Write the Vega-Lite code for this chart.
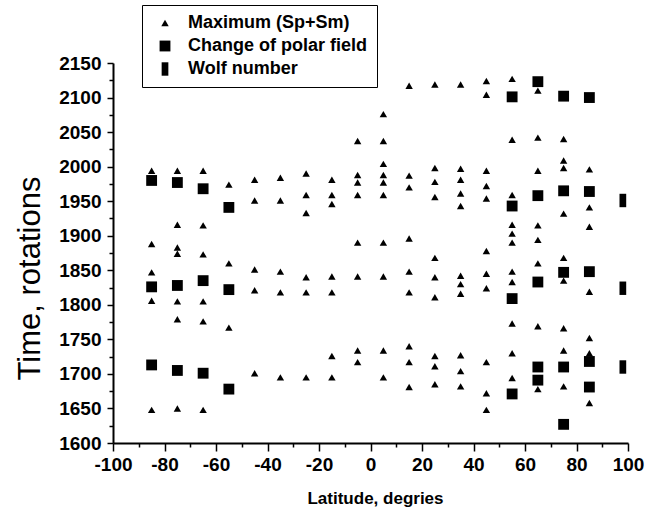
{
  "$schema": "https://vega.github.io/schema/vega-lite/v6.json",
  "width": 515,
  "height": 380,
  "autosize": {"type": "none"},
  "padding": {"left": 113, "top": 63, "right": 17, "bottom": 69},
  "config": {"view": {"stroke": null}, "font": "Liberation Sans"},
  "datasets": {
    "pts": [
      {"latitude": -85, "time": 1994, "series": "Maximum (Sp+Sm)"},
      {"latitude": -85, "time": 1888, "series": "Maximum (Sp+Sm)"},
      {"latitude": -85, "time": 1847, "series": "Maximum (Sp+Sm)"},
      {"latitude": -85, "time": 1806, "series": "Maximum (Sp+Sm)"},
      {"latitude": -85, "time": 1648, "series": "Maximum (Sp+Sm)"},
      {"latitude": -75, "time": 1994, "series": "Maximum (Sp+Sm)"},
      {"latitude": -75, "time": 1916, "series": "Maximum (Sp+Sm)"},
      {"latitude": -75, "time": 1883, "series": "Maximum (Sp+Sm)"},
      {"latitude": -75, "time": 1874, "series": "Maximum (Sp+Sm)"},
      {"latitude": -75, "time": 1805, "series": "Maximum (Sp+Sm)"},
      {"latitude": -75, "time": 1779, "series": "Maximum (Sp+Sm)"},
      {"latitude": -75, "time": 1650, "series": "Maximum (Sp+Sm)"},
      {"latitude": -65, "time": 1994, "series": "Maximum (Sp+Sm)"},
      {"latitude": -65, "time": 1915, "series": "Maximum (Sp+Sm)"},
      {"latitude": -65, "time": 1873, "series": "Maximum (Sp+Sm)"},
      {"latitude": -65, "time": 1805, "series": "Maximum (Sp+Sm)"},
      {"latitude": -65, "time": 1776, "series": "Maximum (Sp+Sm)"},
      {"latitude": -65, "time": 1648, "series": "Maximum (Sp+Sm)"},
      {"latitude": -55, "time": 1974, "series": "Maximum (Sp+Sm)"},
      {"latitude": -55, "time": 1860, "series": "Maximum (Sp+Sm)"},
      {"latitude": -55, "time": 1767, "series": "Maximum (Sp+Sm)"},
      {"latitude": -45, "time": 1981, "series": "Maximum (Sp+Sm)"},
      {"latitude": -45, "time": 1951, "series": "Maximum (Sp+Sm)"},
      {"latitude": -45, "time": 1851, "series": "Maximum (Sp+Sm)"},
      {"latitude": -45, "time": 1821, "series": "Maximum (Sp+Sm)"},
      {"latitude": -45, "time": 1701, "series": "Maximum (Sp+Sm)"},
      {"latitude": -35, "time": 1984, "series": "Maximum (Sp+Sm)"},
      {"latitude": -35, "time": 1951, "series": "Maximum (Sp+Sm)"},
      {"latitude": -35, "time": 1848, "series": "Maximum (Sp+Sm)"},
      {"latitude": -35, "time": 1818, "series": "Maximum (Sp+Sm)"},
      {"latitude": -35, "time": 1695, "series": "Maximum (Sp+Sm)"},
      {"latitude": -25, "time": 1990, "series": "Maximum (Sp+Sm)"},
      {"latitude": -25, "time": 1959, "series": "Maximum (Sp+Sm)"},
      {"latitude": -25, "time": 1933, "series": "Maximum (Sp+Sm)"},
      {"latitude": -25, "time": 1840, "series": "Maximum (Sp+Sm)"},
      {"latitude": -25, "time": 1818, "series": "Maximum (Sp+Sm)"},
      {"latitude": -25, "time": 1695, "series": "Maximum (Sp+Sm)"},
      {"latitude": -15, "time": 1981, "series": "Maximum (Sp+Sm)"},
      {"latitude": -15, "time": 1959, "series": "Maximum (Sp+Sm)"},
      {"latitude": -15, "time": 1946, "series": "Maximum (Sp+Sm)"},
      {"latitude": -15, "time": 1841, "series": "Maximum (Sp+Sm)"},
      {"latitude": -15, "time": 1818, "series": "Maximum (Sp+Sm)"},
      {"latitude": -15, "time": 1726, "series": "Maximum (Sp+Sm)"},
      {"latitude": -15, "time": 1695, "series": "Maximum (Sp+Sm)"},
      {"latitude": -5, "time": 2037, "series": "Maximum (Sp+Sm)"},
      {"latitude": -5, "time": 1988, "series": "Maximum (Sp+Sm)"},
      {"latitude": -5, "time": 1977, "series": "Maximum (Sp+Sm)"},
      {"latitude": -5, "time": 1959, "series": "Maximum (Sp+Sm)"},
      {"latitude": -5, "time": 1890, "series": "Maximum (Sp+Sm)"},
      {"latitude": -5, "time": 1841, "series": "Maximum (Sp+Sm)"},
      {"latitude": -5, "time": 1734, "series": "Maximum (Sp+Sm)"},
      {"latitude": -5, "time": 1717, "series": "Maximum (Sp+Sm)"},
      {"latitude": 5, "time": 2076, "series": "Maximum (Sp+Sm)"},
      {"latitude": 5, "time": 2037, "series": "Maximum (Sp+Sm)"},
      {"latitude": 5, "time": 2004, "series": "Maximum (Sp+Sm)"},
      {"latitude": 5, "time": 1988, "series": "Maximum (Sp+Sm)"},
      {"latitude": 5, "time": 1977, "series": "Maximum (Sp+Sm)"},
      {"latitude": 5, "time": 1959, "series": "Maximum (Sp+Sm)"},
      {"latitude": 5, "time": 1890, "series": "Maximum (Sp+Sm)"},
      {"latitude": 5, "time": 1841, "series": "Maximum (Sp+Sm)"},
      {"latitude": 5, "time": 1734, "series": "Maximum (Sp+Sm)"},
      {"latitude": 5, "time": 1695, "series": "Maximum (Sp+Sm)"},
      {"latitude": 15, "time": 2117, "series": "Maximum (Sp+Sm)"},
      {"latitude": 15, "time": 1987, "series": "Maximum (Sp+Sm)"},
      {"latitude": 15, "time": 1970, "series": "Maximum (Sp+Sm)"},
      {"latitude": 15, "time": 1896, "series": "Maximum (Sp+Sm)"},
      {"latitude": 15, "time": 1848, "series": "Maximum (Sp+Sm)"},
      {"latitude": 15, "time": 1818, "series": "Maximum (Sp+Sm)"},
      {"latitude": 15, "time": 1740, "series": "Maximum (Sp+Sm)"},
      {"latitude": 15, "time": 1717, "series": "Maximum (Sp+Sm)"},
      {"latitude": 15, "time": 1681, "series": "Maximum (Sp+Sm)"},
      {"latitude": 25, "time": 2119, "series": "Maximum (Sp+Sm)"},
      {"latitude": 25, "time": 1998, "series": "Maximum (Sp+Sm)"},
      {"latitude": 25, "time": 1978, "series": "Maximum (Sp+Sm)"},
      {"latitude": 25, "time": 1956, "series": "Maximum (Sp+Sm)"},
      {"latitude": 25, "time": 1868, "series": "Maximum (Sp+Sm)"},
      {"latitude": 25, "time": 1840, "series": "Maximum (Sp+Sm)"},
      {"latitude": 25, "time": 1811, "series": "Maximum (Sp+Sm)"},
      {"latitude": 25, "time": 1726, "series": "Maximum (Sp+Sm)"},
      {"latitude": 25, "time": 1711, "series": "Maximum (Sp+Sm)"},
      {"latitude": 25, "time": 1685, "series": "Maximum (Sp+Sm)"},
      {"latitude": 35, "time": 2119, "series": "Maximum (Sp+Sm)"},
      {"latitude": 35, "time": 1997, "series": "Maximum (Sp+Sm)"},
      {"latitude": 35, "time": 1981, "series": "Maximum (Sp+Sm)"},
      {"latitude": 35, "time": 1961, "series": "Maximum (Sp+Sm)"},
      {"latitude": 35, "time": 1943, "series": "Maximum (Sp+Sm)"},
      {"latitude": 35, "time": 1842, "series": "Maximum (Sp+Sm)"},
      {"latitude": 35, "time": 1830, "series": "Maximum (Sp+Sm)"},
      {"latitude": 35, "time": 1816, "series": "Maximum (Sp+Sm)"},
      {"latitude": 35, "time": 1727, "series": "Maximum (Sp+Sm)"},
      {"latitude": 35, "time": 1704, "series": "Maximum (Sp+Sm)"},
      {"latitude": 35, "time": 1682, "series": "Maximum (Sp+Sm)"},
      {"latitude": 45, "time": 2124, "series": "Maximum (Sp+Sm)"},
      {"latitude": 45, "time": 2104, "series": "Maximum (Sp+Sm)"},
      {"latitude": 45, "time": 1994, "series": "Maximum (Sp+Sm)"},
      {"latitude": 45, "time": 1972, "series": "Maximum (Sp+Sm)"},
      {"latitude": 45, "time": 1954, "series": "Maximum (Sp+Sm)"},
      {"latitude": 45, "time": 1878, "series": "Maximum (Sp+Sm)"},
      {"latitude": 45, "time": 1845, "series": "Maximum (Sp+Sm)"},
      {"latitude": 45, "time": 1824, "series": "Maximum (Sp+Sm)"},
      {"latitude": 45, "time": 1717, "series": "Maximum (Sp+Sm)"},
      {"latitude": 45, "time": 1672, "series": "Maximum (Sp+Sm)"},
      {"latitude": 45, "time": 1648, "series": "Maximum (Sp+Sm)"},
      {"latitude": 55, "time": 2127, "series": "Maximum (Sp+Sm)"},
      {"latitude": 55, "time": 2039, "series": "Maximum (Sp+Sm)"},
      {"latitude": 55, "time": 1959, "series": "Maximum (Sp+Sm)"},
      {"latitude": 55, "time": 1916, "series": "Maximum (Sp+Sm)"},
      {"latitude": 55, "time": 1903, "series": "Maximum (Sp+Sm)"},
      {"latitude": 55, "time": 1890, "series": "Maximum (Sp+Sm)"},
      {"latitude": 55, "time": 1848, "series": "Maximum (Sp+Sm)"},
      {"latitude": 55, "time": 1833, "series": "Maximum (Sp+Sm)"},
      {"latitude": 55, "time": 1773, "series": "Maximum (Sp+Sm)"},
      {"latitude": 55, "time": 1730, "series": "Maximum (Sp+Sm)"},
      {"latitude": 55, "time": 1694, "series": "Maximum (Sp+Sm)"},
      {"latitude": 65, "time": 2110, "series": "Maximum (Sp+Sm)"},
      {"latitude": 65, "time": 2042, "series": "Maximum (Sp+Sm)"},
      {"latitude": 65, "time": 1994, "series": "Maximum (Sp+Sm)"},
      {"latitude": 65, "time": 1915, "series": "Maximum (Sp+Sm)"},
      {"latitude": 65, "time": 1894, "series": "Maximum (Sp+Sm)"},
      {"latitude": 65, "time": 1860, "series": "Maximum (Sp+Sm)"},
      {"latitude": 65, "time": 1769, "series": "Maximum (Sp+Sm)"},
      {"latitude": 65, "time": 1678, "series": "Maximum (Sp+Sm)"},
      {"latitude": 75, "time": 2040, "series": "Maximum (Sp+Sm)"},
      {"latitude": 75, "time": 2009, "series": "Maximum (Sp+Sm)"},
      {"latitude": 75, "time": 1998, "series": "Maximum (Sp+Sm)"},
      {"latitude": 75, "time": 1932, "series": "Maximum (Sp+Sm)"},
      {"latitude": 75, "time": 1868, "series": "Maximum (Sp+Sm)"},
      {"latitude": 75, "time": 1835, "series": "Maximum (Sp+Sm)"},
      {"latitude": 75, "time": 1766, "series": "Maximum (Sp+Sm)"},
      {"latitude": 75, "time": 1734, "series": "Maximum (Sp+Sm)"},
      {"latitude": 75, "time": 1682, "series": "Maximum (Sp+Sm)"},
      {"latitude": 85, "time": 1996, "series": "Maximum (Sp+Sm)"},
      {"latitude": 85, "time": 1941, "series": "Maximum (Sp+Sm)"},
      {"latitude": 85, "time": 1913, "series": "Maximum (Sp+Sm)"},
      {"latitude": 85, "time": 1819, "series": "Maximum (Sp+Sm)"},
      {"latitude": 85, "time": 1752, "series": "Maximum (Sp+Sm)"},
      {"latitude": 85, "time": 1730, "series": "Maximum (Sp+Sm)"},
      {"latitude": 85, "time": 1658, "series": "Maximum (Sp+Sm)"},
      {"latitude": -85, "time": 1980, "series": "Change of polar field"},
      {"latitude": -85, "time": 1826, "series": "Change of polar field"},
      {"latitude": -85, "time": 1713, "series": "Change of polar field"},
      {"latitude": -75, "time": 1977, "series": "Change of polar field"},
      {"latitude": -75, "time": 1828, "series": "Change of polar field"},
      {"latitude": -75, "time": 1705, "series": "Change of polar field"},
      {"latitude": -65, "time": 1968, "series": "Change of polar field"},
      {"latitude": -65, "time": 1835, "series": "Change of polar field"},
      {"latitude": -65, "time": 1701, "series": "Change of polar field"},
      {"latitude": -55, "time": 1941, "series": "Change of polar field"},
      {"latitude": -55, "time": 1822, "series": "Change of polar field"},
      {"latitude": -55, "time": 1678, "series": "Change of polar field"},
      {"latitude": 55, "time": 2101, "series": "Change of polar field"},
      {"latitude": 55, "time": 1943, "series": "Change of polar field"},
      {"latitude": 55, "time": 1809, "series": "Change of polar field"},
      {"latitude": 55, "time": 1671, "series": "Change of polar field"},
      {"latitude": 65, "time": 2123, "series": "Change of polar field"},
      {"latitude": 65, "time": 1958, "series": "Change of polar field"},
      {"latitude": 65, "time": 1833, "series": "Change of polar field"},
      {"latitude": 65, "time": 1710, "series": "Change of polar field"},
      {"latitude": 65, "time": 1691, "series": "Change of polar field"},
      {"latitude": 75, "time": 2102, "series": "Change of polar field"},
      {"latitude": 75, "time": 1965, "series": "Change of polar field"},
      {"latitude": 75, "time": 1847, "series": "Change of polar field"},
      {"latitude": 75, "time": 1710, "series": "Change of polar field"},
      {"latitude": 75, "time": 1627, "series": "Change of polar field"},
      {"latitude": 85, "time": 2100, "series": "Change of polar field"},
      {"latitude": 85, "time": 1964, "series": "Change of polar field"},
      {"latitude": 85, "time": 1848, "series": "Change of polar field"},
      {"latitude": 85, "time": 1718, "series": "Change of polar field"},
      {"latitude": 85, "time": 1681, "series": "Change of polar field"},
      {"latitude": 98, "time": 1951, "series": "Wolf number"},
      {"latitude": 98, "time": 1824, "series": "Wolf number"},
      {"latitude": 98, "time": 1710, "series": "Wolf number"}
    ]
  },
  "data": {"name": "pts"},
  "mark": {"type": "point", "filled": true, "color": "black", "opacity": 1, "strokeWidth": 0},
  "encoding": {
    "x": {
      "field": "latitude",
      "type": "quantitative",
      "scale": {"domain": [-100, 100], "nice": false, "zero": false},
      "axis": {
        "values": [-100, -90, -80, -70, -60, -50, -40, -30, -20, -10, 0, 10, 20, 30, 40, 50, 60, 70, 80, 90, 100],
        "labelExpr": "datum.value % 20 === 0 ? toString(datum.value) : ''",
        "labelOverlap": false,
        "labelFlush": false,
        "grid": false,
        "domainColor": "black",
        "domainWidth": 2,
        "tickColor": "black",
        "tickWidth": 1.5,
        "tickSize": {"condition": {"test": "datum.value % 20 === 0", "value": 8}, "value": 4},
        "labelFont": "Liberation Sans",
        "labelFontSize": 19,
        "labelFontWeight": "bold",
        "labelColor": "black",
        "labelPadding": 4,
        "title": "Latitude, degries",
        "titleFont": "Liberation Sans",
        "titleFontSize": 17,
        "titleFontWeight": "bold",
        "titleColor": "black",
        "titleX": 262,
        "titleY": 55,
        "titleAlign": "center",
        "titleBaseline": "middle"
      }
    },
    "y": {
      "field": "time",
      "type": "quantitative",
      "scale": {"domain": [1600, 2150], "nice": false, "zero": false},
      "axis": {
        "values": [1600, 1625, 1650, 1675, 1700, 1725, 1750, 1775, 1800, 1825, 1850, 1875, 1900, 1925, 1950, 1975, 2000, 2025, 2050, 2075, 2100, 2125, 2150],
        "labelExpr": "datum.value % 50 === 0 ? toString(datum.value) : ''",
        "labelOverlap": false,
        "labelFlush": false,
        "grid": false,
        "domainColor": "black",
        "domainWidth": 2,
        "tickColor": "black",
        "tickWidth": 1.5,
        "tickSize": {"condition": {"test": "datum.value % 50 === 0", "value": 6}, "value": 4},
        "labelFont": "Liberation Sans",
        "labelFontSize": 19,
        "labelFontWeight": "bold",
        "labelColor": "black",
        "labelPadding": 6,
        "title": "Time, rotations",
        "titleFont": "Liberation Sans",
        "titleFontSize": 31,
        "titleFontWeight": "normal",
        "titleColor": "black",
        "titleX": -83,
        "titleY": 215,
        "titleAngle": 270,
        "titleAlign": "center",
        "titleBaseline": "middle"
      }
    },
    "shape": {
      "field": "series",
      "type": "nominal",
      "scale": {
        "domain": ["Maximum (Sp+Sm)", "Change of polar field", "Wolf number"],
        "range": ["triangle-up", "square", "M-0.5,-1H0.5V1H-0.5Z"]
      },
      "legend": {
        "title": null,
        "orient": "none",
        "legendX": 29,
        "legendY": -58,
        "strokeColor": "black",
        "fillColor": "white",
        "padding": 9,
        "rowPadding": 5,
        "labelFont": "Liberation Sans",
        "labelFontSize": 18,
        "labelFontWeight": "bold",
        "labelColor": "black",
        "labelLimit": 400,
        "labelOffset": 14,
        "symbolOffset": 5,
        "symbolFillColor": "black",
        "symbolStrokeWidth": 0,
        "encode": {"legend": {"update": {"strokeWidth": {"value": 1.5}}}}
      }
    },
    "size": {
      "field": "series",
      "type": "nominal",
      "scale": {
        "domain": ["Maximum (Sp+Sm)", "Change of polar field", "Wolf number"],
        "range": [55, 180, 225]
      },
      "legend": {
        "title": null,
        "orient": "none",
        "legendX": 29,
        "legendY": -58
      }
    }
  }
}
